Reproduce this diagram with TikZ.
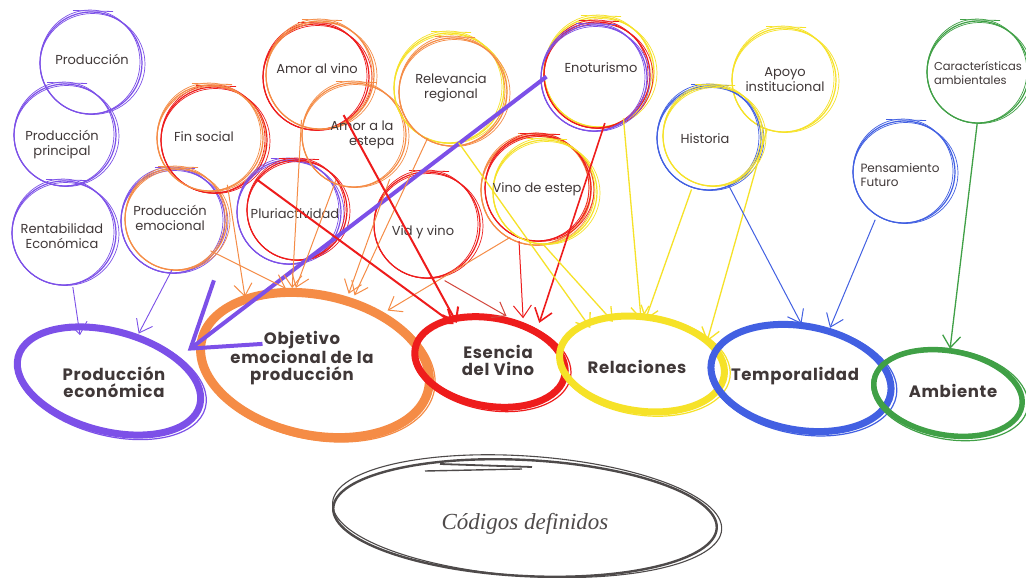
\documentclass[tikz,border=0pt]{standalone}
\usepackage{fontspec}
\setmainfont{Poppins}
\newfontfamily\bigf{Poppins}[LetterSpace=4]
\newfontfamily\scriptf{Liberation Serif}
\usetikzlibrary{arrows.meta,shapes.geometric}
\definecolor{cpur}{RGB}{124,80,232}
\definecolor{cora}{RGB}{245,140,70}
\definecolor{cred}{RGB}{238,28,28}
\definecolor{cyel}{RGB}{246,226,40}
\definecolor{cblu}{RGB}{66,96,226}
\definecolor{cgre}{RGB}{64,160,70}
\definecolor{ctxt}{RGB}{64,56,56}
\definecolor{cgry}{RGB}{78,74,74}
\definecolor{cbrd}{RGB}{210,70,60}
\newcommand{\skc}[4]{%
  \draw[#4, line width=1.2pt] (#1,#2) circle[radius=#3];
  \draw[#4, line width=0.7pt] ({#1+1.5},{#2+1}) ellipse[x radius={#3+1.5}, y radius={#3-0.5}];
  \draw[#4, line width=0.7pt] ({#1-1},{#2-1}) ellipse[x radius={#3-1}, y radius={#3+1}];
  \draw[#4, line width=0.8pt] ({#1-18},{#2-#3-1.5}) -- ({#1+22},{#2-#3-0.5});
}
\newcommand{\ske}[7]{%
  \draw[#6, line width=#7, rotate around={#5:(#1,#2)}] (#1,#2) ellipse[x radius=#3, y radius=#4];
  \draw[#6, line width=1.2pt, rotate around={#5:(#1,#2)}] ({#1+2},{#2+1}) ellipse[x radius={#3+4}, y radius={#4+3}];
}
\tikzset{
  sm/.style={circle, inner sep=0pt, minimum size=#1, align=center, text=ctxt, font=\fontsize{13}{15}\selectfont},
  big/.style={ellipse, inner sep=0pt, align=center, text=ctxt, font=\bigf\bfseries\fontsize{16.5}{17}\selectfont},
  ar/.style={-{Straight Barb[length=12pt,width=18pt]}, line width=1pt},
}
\begin{document}
\begin{tikzpicture}[x=1pt,y=-1pt]
\fill[white] (0,0) rectangle (1026,578);
\useasboundingbox (0,0) rectangle (1026,578);
% small circles
\skc{91}{63}{51}{cpur}
\skc{65}{135}{51}{cpur}
\skc{64}{233}{52}{cpur}
\skc{173}{221}{52}{cpur}\skc{176}{219}{51}{cora}
\skc{214}{140}{53}{cred}\skc{210}{138}{53}{cora}
\skc{289}{212}{52}{cpur}\skc{297}{210}{50}{cred}
\skc{316}{77}{53}{cred}\skc{320}{75}{54}{cora}
\skc{354}{135}{52}{cora}
\skc{449}{88}{55}{cyel}\skc{453}{92}{54}{cora}
\skc{599}{72}{55}{cyel}\skc{597}{75}{53}{cred}\skc{594}{78}{53}{cpur}
\skc{427}{225}{53}{cred}
\skc{536}{190}{55}{cora}\skc{538}{188}{53}{cred}\skc{545}{192}{52}{cyel}
\skc{784}{80}{52}{cyel}
\skc{709}{138}{52}{cblu}\skc{713}{136}{50}{cyel}
\skc{904}{172}{51}{cblu}
\skc{978}{72}{51}{cgre}
\node[sm=102] (prod) at (92,59) {Producción};
\node[sm=102] (prodp) at (62,145) {Producción\\principal};
\node[sm=104] (rent) at (62,236) {Rentabilidad\\Económica};
\node[sm=104] (prode) at (170,218) {Producción\\emocional};
\node[sm=106] (fins) at (204,137) {Fin social};
\node[sm=104] (plur) at (295,214) {Pluriactividad};
\node[sm=106] (amvi) at (317,69) {Amor al vino};
\node[sm=104] (ames) at (362,135) {Amor a la\\\hspace*{1.5em}estepa};
\node[sm=110] (relv) at (451,88) {Relevancia\\regional};
\node[sm=110] (enot) at (601,68) {Enoturismo};
\node[sm=106] (vidv) at (423,232) {Vid y vino};
\node[sm=110] (vest) at (537,189) {Vino de estep};
\node[sm=104] (apoy) at (785,80) {Apoyo\\institucional};
\node[sm=104] (hist) at (705,139) {Historia};
\node[sm=102, align=left, font=\fontsize{12}{14}\selectfont] (pens) at (900,175) {Pensamiento\\Futuro};
\node[sm=102, align=left, font=\fontsize{11.5}{14}\selectfont] (cara) at (978,73) {Características\\ambientales};
% big ellipses
\ske{109}{381}{94}{50}{-15}{cpur}{7pt}
\ske{315}{365}{116}{70}{-12}{cora}{9pt}
\ske{490}{362}{76}{44}{-10}{cred}{7pt}
\ske{642}{364}{83}{47}{-8}{cyel}{7pt}
\ske{801}{378}{91}{52}{-10}{cblu}{7pt}
\ske{948}{393}{75}{42}{-10}{cgre}{5.5pt}
\node[big, minimum width=188, minimum height=100] (pe) at (114,382) {Producción\\económica};
\node[big, minimum width=232, minimum height=140] (oe) at (302,358) {Objetivo\\emocional de la\\producción};
\node[big, minimum width=152, minimum height=88] (ev) at (498,360) {Esencia\\del Vino};
\node[big, minimum width=166, minimum height=94] (re) at (637,367) {Relaciones};
\node[big, minimum width=182, minimum height=104] (te) at (795,376) {Temporalidad};
\node[big, minimum width=150, minimum height=84] (am) at (953,391) {Ambiente};
% codigos definidos
\draw[cgry, line width=2.4pt, rotate around={-3:(525,518)}] (525,518) ellipse[x radius=192, y radius=58];
\draw[cgry, line width=1.1pt, rotate around={-4:(525,518)}] (527,516) ellipse[x radius=195, y radius=60];
\draw[cgry, line width=1.8pt] (440,464) -- (532,467);
\draw[cgry, line width=1.4pt] (425,471) -- (522,469);
\node[ellipse, minimum width=384, minimum height=116, text=cgry, font=\scriptf\itshape\fontsize{23}{23}\selectfont] (cd) at (525,524) {Códigos definidos};
% arrows purple
\draw[ar, cpur, line width=0.9pt] (rent.-78) -- (pe.126);
\draw[ar, cpur, line width=0.9pt] (prode.-88) -- (pe.63);
\draw[cpur, line width=4pt, -{Straight Barb[length=60pt,width=80pt]}] (enot.189) -- (pe.23);
% arrows orange
\draw[ar, cora] (prode.-39) -- (oe.103);
\draw[ar, cora] (fins.-64) -- (oe.133);
\draw[ar, cora] (amvi.-107) -- (oe.98);
\draw[ar, cora] (ames.-120) -- (oe.95);
\draw[ar, cora] (ames.-58) -- (oe.54);
\draw[ar, cora] (relv.-115) -- (oe.50);
\draw[ar, cora] (vest.-119) -- (oe.29);
% arrows red
\draw[ar, cred, line width=2pt] (plur.138) -- (ev.141);
\draw[ar, cred, line width=2pt] (amvi.-60) -- (ev.138);
\draw[ar, cbrd] (vidv.-66) -- (ev.79);
\draw[ar, cred] (vest.-109) -- (ev.59);
\draw[ar, cred, line width=1.6pt] (enot.-86) -- (ev.42);
% arrows yellow
\draw[ar, cyel, line width=1.3pt] (relv.-82) -- (re.140);
\draw[ar, cyel, line width=1.3pt] (vest.-84) -- (re.118);
\draw[ar, cyel, line width=1.3pt] (enot.-66) -- (re.85);
\draw[ar, cyel, line width=1.3pt] (hist.-105) -- (re.80);
\draw[ar, cyel, line width=1.3pt] (apoy.-110) -- (re.20);
% arrows blue
\draw[ar, cblu] (hist.-63) -- (te.83);
\draw[ar, cblu] (pens.-119) -- (te.54);
% arrow green
\draw[ar, cgre, line width=1.3pt] (cara.-91) -- (am.94);
\end{tikzpicture}
\end{document}
